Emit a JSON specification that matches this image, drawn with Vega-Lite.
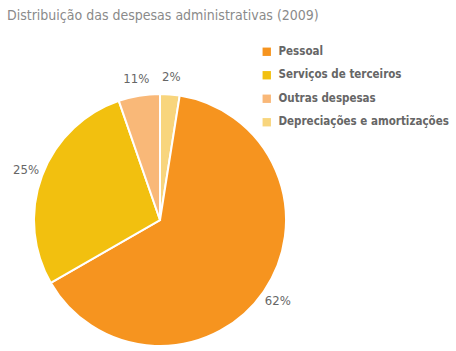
{
  "$schema": "https://vega.github.io/schema/vega-lite/v6.json",
  "width": 252,
  "height": 252,
  "autosize": {"type": "none"},
  "padding": {"left": 34, "top": 94, "right": 170, "bottom": 5},
  "background": "white",
  "title": {
    "text": "Distribuição das despesas administrativas (2009)",
    "anchor": "start",
    "frame": "group",
    "dx": -27,
    "offset": 23,
    "font": "DejaVu Sans Condensed, DejaVu Sans, sans-serif",
    "fontSize": 14,
    "fontWeight": "normal",
    "color": "#8a8a8a"
  },
  "data": {
    "values": [
      {"categoria": "Depreciações e amortizações", "valor": 2.5, "rotulo": "2%", "ordem": 1},
      {"categoria": "Pessoal", "valor": 64.2, "rotulo": "62%", "ordem": 2},
      {"categoria": "Serviços de terceiros", "valor": 28.0, "rotulo": "25%", "ordem": 3},
      {"categoria": "Outras despesas", "valor": 5.3, "rotulo": "11%", "ordem": 4}
    ]
  },
  "encoding": {
    "theta": {"field": "valor", "type": "quantitative", "stack": true},
    "order": {"field": "ordem", "type": "quantitative"}
  },
  "layer": [
    {
      "mark": {"type": "arc", "outerRadius": 126, "stroke": "white", "strokeWidth": 2},
      "encoding": {
        "color": {
          "field": "categoria",
          "type": "nominal",
          "scale": {
            "domain": ["Pessoal", "Serviços de terceiros", "Outras despesas", "Depreciações e amortizações"],
            "range": ["#F6941F", "#F2C00F", "#F9B878", "#F8D57D"]
          },
          "legend": {
            "title": null,
            "orient": "none",
            "legendX": 227,
            "legendY": -48,
            "symbolType": "square",
            "symbolSize": 70,
            "symbolStrokeWidth": 0,
            "labelFont": "DejaVu Sans Condensed, DejaVu Sans, sans-serif",
            "labelFontWeight": "bold",
            "labelFontSize": 11.5,
            "labelColor": "#666666",
            "labelOffset": 6,
            "rowPadding": 10.5,
            "labelLimit": 300
          }
        }
      }
    },
    {
      "mark": {"type": "text", "radius": 143, "font": "DejaVu Sans Condensed, DejaVu Sans, sans-serif", "fontSize": 13, "fontWeight": "normal", "fill": "#666666"},
      "encoding": {"text": {"field": "rotulo", "type": "nominal"}}
    }
  ],
  "config": {"view": {"stroke": null}}
}
